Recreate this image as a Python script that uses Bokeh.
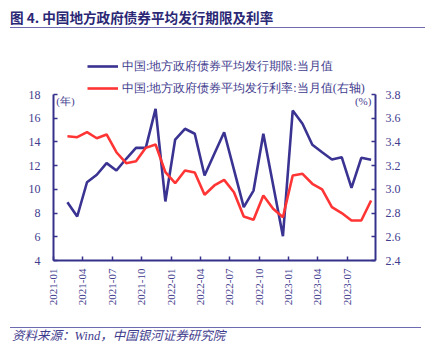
import math
from bokeh.plotting import figure
from bokeh.models import (Range1d, LinearAxis, FixedTicker, Label, Legend, LegendItem,
                          NumeralTickFormatter, Div)
from bokeh.layouts import column
from bokeh.embed import file_html
from bokeh.resources import INLINE

# ---- data ----
tick_labels = ["2021-01", "2021-04", "2021-07", "2021-10", "2022-01", "2022-04",
               "2022-07", "2022-10", "2023-01", "2023-04", "2023-07"]
tick_pos = [0, 3, 6, 9, 12, 15, 18, 21, 24, 27, 30]
month_index = list(range(1, 33))  # 2021-02 ... 2023-09
tenor = [8.92, 7.71, 10.60, 11.23, 12.21, 11.59, 12.58, 13.50, 13.50, 16.79, 8.98, 14.20,
         15.11, 14.69, 11.17, 13.00, 14.82, 11.67, 8.50, 9.90, 14.69, 10.37, 6.05, 16.65,
         15.53, 13.76, 13.13, 12.52, 12.71, 10.13, 12.66, 12.49]
rate = [3.448, 3.440, 3.482, 3.431, 3.463, 3.313, 3.221, 3.237, 3.350, 3.378, 3.145, 3.052,
        3.159, 3.142, 2.954, 3.033, 3.080, 2.976, 2.771, 2.743, 2.948, 2.836, 2.765, 3.117,
        3.131, 3.047, 2.999, 2.850, 2.800, 2.737, 2.737, 2.906]
left_ticks = [4, 6, 8, 10, 12, 14, 16, 18]
right_ticks = [2.4, 2.6, 2.8, 3.0, 3.2, 3.4, 3.6, 3.8]
label_tenor = "中国:地方政府债券平均发行期限:当月值"
label_rate = "中国:地方政府债券平均发行利率:当月值(右轴)"
title_text = "图 4. 中国地方政府债券平均发行期限及利率"
source_text = "资料来源：Wind，中国银河证券研究院"

# ---- style / layout ----
NAVY = "#35318a"
TXT = "#3f3c8e"
BLUE = "#3a3392"
RED = "#ff3535"
RULE = "#6d6ab0"
SERIF = "Liberation Serif"
offset = 0.42
xs = [m + offset for m in month_index]

TITLE_H = 30
SRC_H = 27
FIG_H = 349 - TITLE_H - SRC_H
AX_TOP, FRAME_TOP, FRAME_BOTTOM = 94, 50, 260   # canvas px
# extend the frame above the axes so the legend sits inside it
ext = (AX_TOP - FRAME_TOP) / (FRAME_BOTTOM - AX_TOP)
ly0, ly1 = left_ticks[0], left_ticks[-1]
ry0, ry1 = right_ticks[0], right_ticks[-1]

p = figure(width=428, height=FIG_H, output_backend="svg", toolbar_location=None,
           x_range=Range1d(0, 32.87), y_range=Range1d(ly0, ly1 + (ly1 - ly0) * ext),
           min_border_left=53, min_border_right=53,
           min_border_top=FRAME_TOP - TITLE_H,
           min_border_bottom=FIG_H - (FRAME_BOTTOM - TITLE_H),
           x_axis_location=None, y_axis_location=None)
p.outline_line_color = None
p.xgrid.grid_line_color = None
p.ygrid.grid_line_color = None
p.extra_y_ranges = {"rate": Range1d(ry0, ry1 + (ry1 - ry0) * ext)}

def style_axis(ax):
    ax.axis_line_color = NAVY
    ax.axis_line_width = 2
    ax.major_tick_line_color = NAVY
    ax.major_tick_line_width = 1.5
    ax.major_tick_in = 4
    ax.major_tick_out = 0
    ax.minor_tick_line_color = None
    ax.major_label_text_color = TXT
    ax.major_label_text_font = SERIF
    ax.major_label_text_font_size = "12px"

yl = LinearAxis(ticker=FixedTicker(ticks=left_ticks), bounds=(ly0, ly1))
style_axis(yl)
yl.major_label_standoff = 13
p.add_layout(yl, "left")

yr = LinearAxis(y_range_name="rate", ticker=FixedTicker(ticks=right_ticks), bounds=(ry0, ry1))
style_axis(yr)
yr.major_label_standoff = 10
yr.formatter = NumeralTickFormatter(format="0.0")
p.add_layout(yr, "right")

xb = LinearAxis(ticker=FixedTicker(ticks=tick_pos))
style_axis(xb)
xb.major_label_overrides = {t: s for t, s in zip(tick_pos, tick_labels)}
xb.major_label_orientation = math.pi / 2
xb.major_label_text_font_size = "11px"
xb.major_label_standoff = 8
p.add_layout(xb, "below")

r1 = p.line(xs, tenor, line_color=BLUE, line_width=2.6)
r2 = p.line(xs, rate, line_color=RED, line_width=2.6, y_range_name="rate")

legend = Legend(items=[LegendItem(label=label_tenor, renderers=[r1]),
                       LegendItem(label=label_rate, renderers=[r2])],
                location=(34, 162), orientation="vertical")
legend.border_line_color = None
legend.background_fill_alpha = 0
legend.padding = 0
legend.margin = 0
legend.spacing = 2
legend.glyph_width = 31
legend.glyph_height = 20
legend.label_height = 20
legend.label_standoff = 4
legend.label_text_font = SERIF
legend.label_text_font_size = "12px"
legend.label_text_color = TXT
p.add_layout(legend, "center")

p.add_layout(Label(x=0.28, y=ly1 - 0.05, text="(年)", text_baseline="top", text_align="left",
                   text_font=SERIF, text_font_size="11px", text_color=TXT))
p.add_layout(Label(x=32.45, y=ly1 - 0.05, text="(%)", text_baseline="top", text_align="right",
                   text_font=SERIF, text_font_size="11px", text_color=TXT))

title_html = (
    '<div style="position:relative;width:428px;height:%dpx;">'
    '<div style="position:absolute;left:10px;top:7px;font-family:\'Noto Sans CJK SC\';'
    'font-weight:bold;font-size:13.6px;line-height:20px;color:#2a2775;white-space:nowrap;">%s</div>'
    '<div style="position:absolute;left:10px;top:27px;width:415px;height:1px;background:%s;"></div>'
    '</div>' % (TITLE_H, title_text, RULE))
source_html = (
    '<div style="position:relative;width:428px;height:%dpx;">'
    '<div style="position:absolute;left:10px;top:%dpx;width:411px;height:1px;background:%s;"></div>'
    '<div style="position:absolute;left:12px;top:%dpx;font-family:\'Liberation Serif\',\'Noto Sans CJK SC\';'
    'font-style:italic;font-size:12.5px;line-height:16px;color:%s;white-space:nowrap;">%s</div>'
    '</div>' % (SRC_H, 327 - (349 - SRC_H), RULE, 336 - 8 - (349 - SRC_H), TXT, source_text))

title_div = Div(text=title_html, width=428, height=TITLE_H, margin=(0, 0, 0, 0))
source_div = Div(text=source_html, width=428, height=SRC_H, margin=(0, 0, 0, 0))
p.margin = (0, 0, 0, 0)

layout = column(title_div, p, source_div, spacing=0, margin=(0, 0, 0, 0))
open("out.html", "w").write(file_html(layout, INLINE))
